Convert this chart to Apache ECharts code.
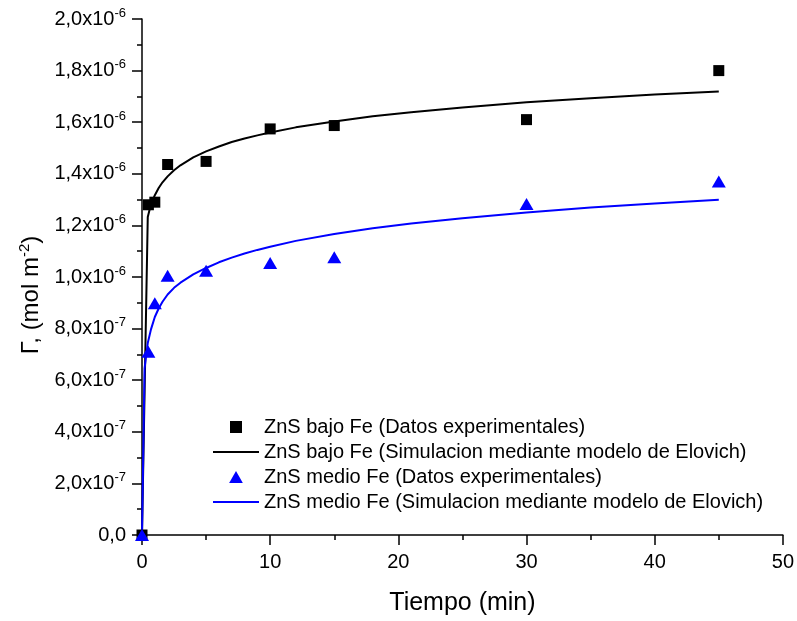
<!DOCTYPE html>
<html>
<head>
<meta charset="utf-8">
<script src="https://cdn.jsdelivr.net/npm/echarts@6/dist/echarts.min.js"></script>
<style>
  html, body { margin: 0; padding: 0; background: #fff; }
  #chart { width: 797px; height: 621px; }
</style>
</head>
<body>
<div id="chart"></div>
<script>
// Sampling times (min) of the experimental runs
const tiempo = [0, 0.5, 1, 2, 5, 10, 15, 30, 45];

// Surface excess, mol m^-2
const bajoFeExp = [0, 1.28e-6, 1.29e-6, 1.436e-6, 1.448e-6, 1.574e-6, 1.587e-6, 1.61e-6, 1.80e-6];
const medioFeExp = [0, 0.71e-6, 0.898e-6, 1.005e-6, 1.024e-6, 1.054e-6, 1.077e-6, 1.283e-6, 1.37e-6];

// Elovich model curves (time, value)
const bajoFeSimT = [0, 0.45, 0.6, 0.8, 1, 1.3, 1.6, 2, 2.5, 3, 4, 5, 6, 7, 8, 9, 10, 12, 15, 18, 21, 25, 30, 35, 40, 45];
const bajoFeSimV = [0, 1.233e-6, 1.263e-6, 1.293e-6, 1.317e-6, 1.345e-6, 1.367e-6, 1.390e-6, 1.414e-6,
  1.433e-6, 1.464e-6, 1.487e-6, 1.506e-6, 1.523e-6, 1.537e-6, 1.549e-6, 1.560e-6, 1.580e-6, 1.603e-6,
  1.623e-6, 1.639e-6, 1.657e-6, 1.677e-6, 1.693e-6, 1.707e-6, 1.719e-6];
const medioFeSimT = [0, 0.2, 0.45, 0.7, 1, 1.3, 1.6, 2, 2.5, 3, 4, 5, 6, 7, 8, 9, 10, 12, 15, 18, 21, 25, 30, 35, 40, 45];
const medioFeSimV = [0, 0.646e-6, 0.744e-6, 0.797e-6, 0.845e-6, 0.878e-6, 0.904e-6, 0.932e-6, 0.958e-6,
  0.978e-6, 1.010e-6, 1.035e-6, 1.057e-6, 1.075e-6, 1.091e-6, 1.105e-6, 1.117e-6, 1.140e-6, 1.167e-6,
  1.189e-6, 1.207e-6, 1.228e-6, 1.250e-6, 1.269e-6, 1.285e-6, 1.299e-6];

// Axis tick labels
const yTickBase = ['0,0', '2,0x10', '4,0x10', '6,0x10', '8,0x10', '1,0x10', '1,2x10', '1,4x10', '1,6x10', '1,8x10', '2,0x10'];
const yTickPower = ['', '-7', '-7', '-7', '-7', '-6', '-6', '-6', '-6', '-6', '-6'];

const seriesNames = [
  'ZnS bajo Fe (Datos experimentales)',
  'ZnS bajo Fe (Simulacion mediante modelo de Elovich)',
  'ZnS medio Fe (Datos experimentales)',
  'ZnS medio Fe (Simulacion mediante modelo de Elovich)'
];

const pairs = (xs, ys) => xs.map((x, i) => [x, ys[i]]);
const FONT = "'Liberation Sans', Arial, sans-serif";

const chart = echarts.init(document.getElementById('chart'), null, { renderer: 'canvas' });

chart.setOption({
  animation: false,
  backgroundColor: '#ffffff',
  textStyle: { fontFamily: FONT, color: '#000' },
  grid: { left: 142, right: 14, top: 19, bottom: 81, containLabel: false },
  xAxis: {
    type: 'value',
    min: 0, max: 50, interval: 10,
    name: 'Tiempo (min)',
    nameLocation: 'middle',
    nameGap: 56,
    nameTextStyle: { fontSize: 25, color: '#000', fontFamily: FONT },
    axisLine: { show: true, onZero: false, lineStyle: { color: '#000', width: 1.5 } },
    axisTick: { show: true, inside: false, length: 10, lineStyle: { color: '#000', width: 1.5 } },
    minorTick: { show: true, splitNumber: 2, length: 5, lineStyle: { color: '#000', width: 1.5 } },
    splitLine: { show: false },
    axisLabel: { fontSize: 20, color: '#000', margin: 17, fontFamily: FONT }
  },
  yAxis: {
    type: 'value',
    min: 0, max: 2e-6, interval: 2e-7,
    name: '{a|Γ, (mol m}{s|-2}{a|)}',
    nameLocation: 'middle',
    nameGap: 96,
    nameRotate: 90,
    nameTextStyle: {
      padding: [0, 36, 0, 0],
      rich: {
        a: { fontSize: 24, color: '#000', fontFamily: FONT },
        s: { fontSize: 15, color: '#000', fontFamily: FONT, padding: [0, 0, 13, 0] }
      }
    },
    axisLine: { show: true, onZero: false, lineStyle: { color: '#000', width: 1.5 } },
    axisTick: { show: true, inside: false, length: 10, lineStyle: { color: '#000', width: 1.5 } },
    minorTick: { show: true, splitNumber: 2, length: 5, lineStyle: { color: '#000', width: 1.5 } },
    splitLine: { show: false },
    axisLabel: {
      margin: 16,
      formatter: function (v) {
        const i = Math.round(v / 2e-7);
        if (!yTickPower[i]) return '{b|' + yTickBase[i] + '}';
        return '{b|' + yTickBase[i] + '}{s|' + yTickPower[i] + '}';
      },
      rich: {
        b: { fontSize: 20, color: '#000', fontFamily: FONT },
        s: { fontSize: 13, color: '#000', fontFamily: FONT, padding: [0, 0, 12, 0] }
      }
    }
  },
  legend: {
    orient: 'vertical',
    left: 213,
    top: 417,
    padding: 0,
    itemWidth: 46,
    itemHeight: 12,
    itemGap: 5,
    textStyle: { fontSize: 20, color: '#000', fontFamily: FONT },
    data: [
      { name: seriesNames[0], icon: 'path://M0,0H10V10H0Z' },
      { name: seriesNames[1], icon: 'path://M0,0H46V2H0Z' },
      { name: seriesNames[2], icon: 'path://M6,0L12,10.5L0,10.5Z' },
      { name: seriesNames[3], icon: 'path://M0,0H46V2H0Z' }
    ]
  },
  series: [
    {
      name: seriesNames[1],
      type: 'line',
      data: pairs(bajoFeSimT, bajoFeSimV),
      symbol: 'none',
      smooth: false,
      lineStyle: { color: '#000', width: 2 },
      itemStyle: { color: '#000' },
      z: 2
    },
    {
      name: seriesNames[3],
      type: 'line',
      data: pairs(medioFeSimT, medioFeSimV),
      symbol: 'none',
      smooth: false,
      lineStyle: { color: '#0000ff', width: 2 },
      itemStyle: { color: '#0000ff' },
      z: 2
    },
    {
      name: seriesNames[0],
      type: 'scatter',
      data: pairs(tiempo, bajoFeExp),
      symbol: 'rect',
      symbolSize: 11,
      itemStyle: { color: '#000', opacity: 1 },
      z: 3
    },
    {
      name: seriesNames[2],
      type: 'scatter',
      data: pairs(tiempo, medioFeExp),
      symbol: 'triangle',
      symbolSize: [14, 12],
      itemStyle: { color: '#0000ff', opacity: 1 },
      z: 3
    }
  ]
});
</script>
</body>
</html>
